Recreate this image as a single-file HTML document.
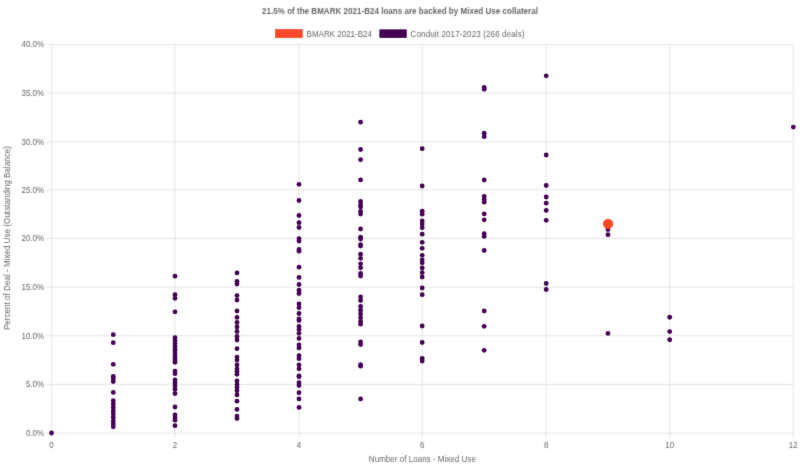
<!DOCTYPE html>
<html><head><meta charset="utf-8"><style>
html,body{margin:0;padding:0;background:#fff;width:800px;height:467px;overflow:hidden}
svg{display:block}
</style></head><body>
<svg width="800" height="467" viewBox="0 0 800 467">
<defs>
<filter id="ft" x="0" y="0" width="800" height="467" filterUnits="userSpaceOnUse"><feConvolveMatrix order="3" kernelMatrix="0.0161 0.0947 0.0161 0.0947 0.5569 0.0947 0.0161 0.0947 0.0161"/></filter>
<filter id="fd" x="0" y="0" width="800" height="467" filterUnits="userSpaceOnUse"><feConvolveMatrix order="3" kernelMatrix="0.0069 0.0694 0.0069 0.0694 0.6944 0.0694 0.0069 0.0694 0.0069"/></filter>
</defs>
<g stroke="rgba(0,0,0,0.16)" stroke-width="0.667" filter="url(#ft)">
<line x1="46.1" y1="433.10" x2="793.20" y2="433.10"/>
<line x1="46.1" y1="384.40" x2="793.20" y2="384.40"/>
<line x1="46.1" y1="335.70" x2="793.20" y2="335.70"/>
<line x1="46.1" y1="287.15" x2="793.20" y2="287.15"/>
<line x1="46.1" y1="238.30" x2="793.20" y2="238.30"/>
<line x1="46.1" y1="189.80" x2="793.20" y2="189.80"/>
<line x1="46.1" y1="141.90" x2="793.20" y2="141.90"/>
<line x1="46.1" y1="93.08" x2="793.20" y2="93.08"/>
<line x1="46.1" y1="44.40" x2="793.20" y2="44.40"/>
<line x1="51.55" y1="44.40" x2="51.55" y2="437.6"/>
<line x1="175.00" y1="44.40" x2="175.00" y2="437.6"/>
<line x1="299.00" y1="44.40" x2="299.00" y2="437.6"/>
<line x1="422.20" y1="44.40" x2="422.20" y2="437.6"/>
<line x1="546.20" y1="44.40" x2="546.20" y2="437.6"/>
<line x1="669.70" y1="44.40" x2="669.70" y2="437.6"/>
<line x1="793.30" y1="44.40" x2="793.30" y2="437.6"/>
</g>
<g filter="url(#ft)" font-family="Liberation Sans, sans-serif" font-size="8" fill="#666">
<text transform="translate(44.10,436.10) scale(1,1.12)" text-anchor="end">0.0%</text>
<text transform="translate(44.10,387.40) scale(1,1.12)" text-anchor="end">5.0%</text>
<text transform="translate(44.10,338.70) scale(1,1.12)" text-anchor="end">10.0%</text>
<text transform="translate(44.10,290.15) scale(1,1.12)" text-anchor="end">15.0%</text>
<text transform="translate(44.10,241.30) scale(1,1.12)" text-anchor="end">20.0%</text>
<text transform="translate(44.10,192.80) scale(1,1.12)" text-anchor="end">25.0%</text>
<text transform="translate(44.10,144.90) scale(1,1.12)" text-anchor="end">30.0%</text>
<text transform="translate(44.10,96.08) scale(1,1.12)" text-anchor="end">35.0%</text>
<text transform="translate(44.10,47.40) scale(1,1.12)" text-anchor="end">40.0%</text>
<text transform="translate(51.55,447.70) scale(1,1.12)" text-anchor="middle">0</text>
<text transform="translate(175.00,447.70) scale(1,1.12)" text-anchor="middle">2</text>
<text transform="translate(299.00,447.70) scale(1,1.12)" text-anchor="middle">4</text>
<text transform="translate(422.20,447.70) scale(1,1.12)" text-anchor="middle">6</text>
<text transform="translate(546.20,447.70) scale(1,1.12)" text-anchor="middle">8</text>
<text transform="translate(669.70,447.70) scale(1,1.12)" text-anchor="middle">10</text>
<text transform="translate(793.30,447.70) scale(1,1.12)" text-anchor="middle">12</text>
<text transform="translate(422.35,462.10) scale(1,1.12)" text-anchor="middle" textLength="107">Number of Loans - Mixed Use</text>
<text transform="translate(10.20,238.1) rotate(-90) scale(1,1.12)" text-anchor="middle" textLength="183.9">Percent of Deal - Mixed Use (Outstanding Balance)</text>
<text transform="translate(400.00,14.30) scale(1,1.12)" text-anchor="middle" font-weight="bold" textLength="275.9">21.5% of the BMARK 2021-B24 loans are backed by Mixed Use collateral</text>
<text transform="translate(306.60,36.70) scale(1,1.12)">BMARK 2021-B24</text>
<text transform="translate(410.60,36.70) scale(1,1.12)" textLength="113.9">Conduit 2017-2023 (266 deals)</text>
</g>
<g filter="url(#fd)">
<rect x="275.6" y="29.6" width="26.67" height="8" fill="#ff482a" stroke="#ff3a14" stroke-width="0.667"/>
<rect x="379.8" y="29.8" width="26.5" height="7.8" fill="#440154" stroke="#300040" stroke-width="0.667"/>
<g fill="#440154">
<circle cx="51.55" cy="433.00" r="2.4"/>
<circle cx="113.28" cy="334.70" r="2.4"/>
<circle cx="113.28" cy="342.70" r="2.4"/>
<circle cx="113.28" cy="364.30" r="2.4"/>
<circle cx="113.28" cy="376.30" r="2.4"/>
<circle cx="113.28" cy="378.80" r="2.4"/>
<circle cx="113.28" cy="381.60" r="2.4"/>
<circle cx="113.28" cy="392.40" r="2.4"/>
<circle cx="113.28" cy="400.70" r="2.4"/>
<circle cx="113.28" cy="403.90" r="2.4"/>
<circle cx="113.28" cy="407.50" r="2.4"/>
<circle cx="113.28" cy="411.00" r="2.4"/>
<circle cx="113.28" cy="413.90" r="2.4"/>
<circle cx="113.28" cy="417.50" r="2.4"/>
<circle cx="113.28" cy="421.10" r="2.4"/>
<circle cx="113.28" cy="424.00" r="2.4"/>
<circle cx="113.28" cy="426.80" r="2.4"/>
<circle cx="175.00" cy="276.20" r="2.4"/>
<circle cx="175.00" cy="294.70" r="2.4"/>
<circle cx="175.00" cy="298.30" r="2.4"/>
<circle cx="175.00" cy="311.80" r="2.4"/>
<circle cx="175.00" cy="337.70" r="2.4"/>
<circle cx="175.00" cy="340.60" r="2.4"/>
<circle cx="175.00" cy="343.60" r="2.4"/>
<circle cx="175.00" cy="346.40" r="2.4"/>
<circle cx="175.00" cy="349.20" r="2.4"/>
<circle cx="175.00" cy="352.00" r="2.4"/>
<circle cx="175.00" cy="354.80" r="2.4"/>
<circle cx="175.00" cy="357.40" r="2.4"/>
<circle cx="175.00" cy="360.00" r="2.4"/>
<circle cx="175.00" cy="362.30" r="2.4"/>
<circle cx="175.00" cy="371.10" r="2.4"/>
<circle cx="175.00" cy="373.70" r="2.4"/>
<circle cx="175.00" cy="380.00" r="2.4"/>
<circle cx="175.00" cy="383.00" r="2.4"/>
<circle cx="175.00" cy="386.00" r="2.4"/>
<circle cx="175.00" cy="389.30" r="2.4"/>
<circle cx="175.00" cy="393.50" r="2.4"/>
<circle cx="175.00" cy="407.00" r="2.4"/>
<circle cx="175.00" cy="414.80" r="2.4"/>
<circle cx="175.00" cy="417.50" r="2.4"/>
<circle cx="175.00" cy="420.20" r="2.4"/>
<circle cx="175.00" cy="425.70" r="2.4"/>
<circle cx="237.00" cy="272.90" r="2.4"/>
<circle cx="237.00" cy="281.30" r="2.4"/>
<circle cx="237.00" cy="284.00" r="2.4"/>
<circle cx="237.00" cy="295.60" r="2.4"/>
<circle cx="237.00" cy="300.10" r="2.4"/>
<circle cx="237.00" cy="311.00" r="2.4"/>
<circle cx="237.00" cy="317.40" r="2.4"/>
<circle cx="237.00" cy="322.50" r="2.4"/>
<circle cx="237.00" cy="327.00" r="2.4"/>
<circle cx="237.00" cy="331.50" r="2.4"/>
<circle cx="237.00" cy="336.50" r="2.4"/>
<circle cx="237.00" cy="340.00" r="2.4"/>
<circle cx="237.00" cy="348.70" r="2.4"/>
<circle cx="237.00" cy="357.10" r="2.4"/>
<circle cx="237.00" cy="360.10" r="2.4"/>
<circle cx="237.00" cy="365.00" r="2.4"/>
<circle cx="237.00" cy="368.80" r="2.4"/>
<circle cx="237.00" cy="371.50" r="2.4"/>
<circle cx="237.00" cy="374.30" r="2.4"/>
<circle cx="237.00" cy="381.00" r="2.4"/>
<circle cx="237.00" cy="384.40" r="2.4"/>
<circle cx="237.00" cy="387.40" r="2.4"/>
<circle cx="237.00" cy="390.75" r="2.4"/>
<circle cx="237.00" cy="394.90" r="2.4"/>
<circle cx="237.00" cy="401.20" r="2.4"/>
<circle cx="237.00" cy="409.40" r="2.4"/>
<circle cx="237.00" cy="416.10" r="2.4"/>
<circle cx="237.00" cy="418.40" r="2.4"/>
<circle cx="299.00" cy="184.30" r="2.4"/>
<circle cx="299.00" cy="200.50" r="2.4"/>
<circle cx="299.00" cy="215.50" r="2.4"/>
<circle cx="299.00" cy="222.70" r="2.4"/>
<circle cx="299.00" cy="227.50" r="2.4"/>
<circle cx="299.00" cy="238.70" r="2.4"/>
<circle cx="299.00" cy="241.00" r="2.4"/>
<circle cx="299.00" cy="249.50" r="2.4"/>
<circle cx="299.00" cy="251.20" r="2.4"/>
<circle cx="299.00" cy="267.20" r="2.4"/>
<circle cx="299.00" cy="277.40" r="2.4"/>
<circle cx="299.00" cy="284.50" r="2.4"/>
<circle cx="299.00" cy="290.20" r="2.4"/>
<circle cx="299.00" cy="293.50" r="2.4"/>
<circle cx="299.00" cy="304.00" r="2.4"/>
<circle cx="299.00" cy="307.70" r="2.4"/>
<circle cx="299.00" cy="313.50" r="2.4"/>
<circle cx="299.00" cy="318.90" r="2.4"/>
<circle cx="299.00" cy="320.50" r="2.4"/>
<circle cx="299.00" cy="326.40" r="2.4"/>
<circle cx="299.00" cy="329.40" r="2.4"/>
<circle cx="299.00" cy="333.30" r="2.4"/>
<circle cx="299.00" cy="338.40" r="2.4"/>
<circle cx="299.00" cy="344.90" r="2.4"/>
<circle cx="299.00" cy="347.90" r="2.4"/>
<circle cx="299.00" cy="355.70" r="2.4"/>
<circle cx="299.00" cy="358.70" r="2.4"/>
<circle cx="299.00" cy="365.00" r="2.4"/>
<circle cx="299.00" cy="368.80" r="2.4"/>
<circle cx="299.00" cy="376.00" r="2.4"/>
<circle cx="299.00" cy="376.80" r="2.4"/>
<circle cx="299.00" cy="382.70" r="2.4"/>
<circle cx="299.00" cy="385.60" r="2.4"/>
<circle cx="299.00" cy="392.70" r="2.4"/>
<circle cx="299.00" cy="398.90" r="2.4"/>
<circle cx="299.00" cy="407.40" r="2.4"/>
<circle cx="360.60" cy="122.20" r="2.4"/>
<circle cx="360.60" cy="149.50" r="2.4"/>
<circle cx="360.60" cy="159.70" r="2.4"/>
<circle cx="360.60" cy="179.90" r="2.4"/>
<circle cx="360.60" cy="201.50" r="2.4"/>
<circle cx="360.60" cy="204.70" r="2.4"/>
<circle cx="360.60" cy="207.00" r="2.4"/>
<circle cx="360.60" cy="211.30" r="2.4"/>
<circle cx="360.60" cy="214.10" r="2.4"/>
<circle cx="360.60" cy="229.00" r="2.4"/>
<circle cx="360.60" cy="237.20" r="2.4"/>
<circle cx="360.60" cy="239.10" r="2.4"/>
<circle cx="360.60" cy="244.70" r="2.4"/>
<circle cx="360.60" cy="246.00" r="2.4"/>
<circle cx="360.60" cy="254.20" r="2.4"/>
<circle cx="360.60" cy="258.30" r="2.4"/>
<circle cx="360.60" cy="263.80" r="2.4"/>
<circle cx="360.60" cy="267.80" r="2.4"/>
<circle cx="360.60" cy="273.40" r="2.4"/>
<circle cx="360.60" cy="276.00" r="2.4"/>
<circle cx="360.60" cy="296.90" r="2.4"/>
<circle cx="360.60" cy="300.50" r="2.4"/>
<circle cx="360.60" cy="306.50" r="2.4"/>
<circle cx="360.60" cy="310.20" r="2.4"/>
<circle cx="360.60" cy="314.00" r="2.4"/>
<circle cx="360.60" cy="317.70" r="2.4"/>
<circle cx="360.60" cy="321.50" r="2.4"/>
<circle cx="360.60" cy="324.20" r="2.4"/>
<circle cx="360.60" cy="342.00" r="2.4"/>
<circle cx="360.60" cy="344.60" r="2.4"/>
<circle cx="360.60" cy="364.70" r="2.4"/>
<circle cx="360.60" cy="366.20" r="2.4"/>
<circle cx="360.60" cy="398.90" r="2.4"/>
<circle cx="422.20" cy="148.70" r="2.4"/>
<circle cx="422.20" cy="186.00" r="2.4"/>
<circle cx="422.20" cy="211.20" r="2.4"/>
<circle cx="422.20" cy="214.20" r="2.4"/>
<circle cx="422.20" cy="221.00" r="2.4"/>
<circle cx="422.20" cy="224.00" r="2.4"/>
<circle cx="422.20" cy="227.70" r="2.4"/>
<circle cx="422.20" cy="234.20" r="2.4"/>
<circle cx="422.20" cy="242.30" r="2.4"/>
<circle cx="422.20" cy="248.30" r="2.4"/>
<circle cx="422.20" cy="255.30" r="2.4"/>
<circle cx="422.20" cy="259.80" r="2.4"/>
<circle cx="422.20" cy="262.80" r="2.4"/>
<circle cx="422.20" cy="268.00" r="2.4"/>
<circle cx="422.20" cy="272.60" r="2.4"/>
<circle cx="422.20" cy="277.00" r="2.4"/>
<circle cx="422.20" cy="288.00" r="2.4"/>
<circle cx="422.20" cy="294.70" r="2.4"/>
<circle cx="422.20" cy="326.00" r="2.4"/>
<circle cx="422.20" cy="342.50" r="2.4"/>
<circle cx="422.20" cy="358.30" r="2.4"/>
<circle cx="422.20" cy="361.00" r="2.4"/>
<circle cx="484.20" cy="87.50" r="2.4"/>
<circle cx="484.20" cy="89.30" r="2.4"/>
<circle cx="484.20" cy="133.20" r="2.4"/>
<circle cx="484.20" cy="136.70" r="2.4"/>
<circle cx="484.20" cy="180.00" r="2.4"/>
<circle cx="484.20" cy="196.50" r="2.4"/>
<circle cx="484.20" cy="199.50" r="2.4"/>
<circle cx="484.20" cy="202.20" r="2.4"/>
<circle cx="484.20" cy="213.90" r="2.4"/>
<circle cx="484.20" cy="219.80" r="2.4"/>
<circle cx="484.20" cy="233.70" r="2.4"/>
<circle cx="484.20" cy="236.40" r="2.4"/>
<circle cx="484.20" cy="250.50" r="2.4"/>
<circle cx="484.20" cy="311.00" r="2.4"/>
<circle cx="484.20" cy="326.30" r="2.4"/>
<circle cx="484.20" cy="350.30" r="2.4"/>
<circle cx="546.20" cy="75.80" r="2.4"/>
<circle cx="546.20" cy="155.00" r="2.4"/>
<circle cx="546.20" cy="185.50" r="2.4"/>
<circle cx="546.20" cy="197.00" r="2.4"/>
<circle cx="546.20" cy="203.20" r="2.4"/>
<circle cx="546.20" cy="210.40" r="2.4"/>
<circle cx="546.20" cy="220.30" r="2.4"/>
<circle cx="546.20" cy="283.50" r="2.4"/>
<circle cx="546.20" cy="289.50" r="2.4"/>
<circle cx="607.95" cy="229.60" r="2.4"/>
<circle cx="607.95" cy="234.70" r="2.4"/>
<circle cx="607.95" cy="333.40" r="2.4"/>
<circle cx="669.70" cy="317.25" r="2.4"/>
<circle cx="669.70" cy="331.60" r="2.4"/>
<circle cx="669.70" cy="339.75" r="2.4"/>
<circle cx="793.30" cy="127.10" r="2.4"/>
</g>
<circle cx="608.05" cy="223.9" r="4.75" fill="#ff482a" stroke="#ff3a14" stroke-width="0.667"/>
</g>
</svg>
</body></html>
